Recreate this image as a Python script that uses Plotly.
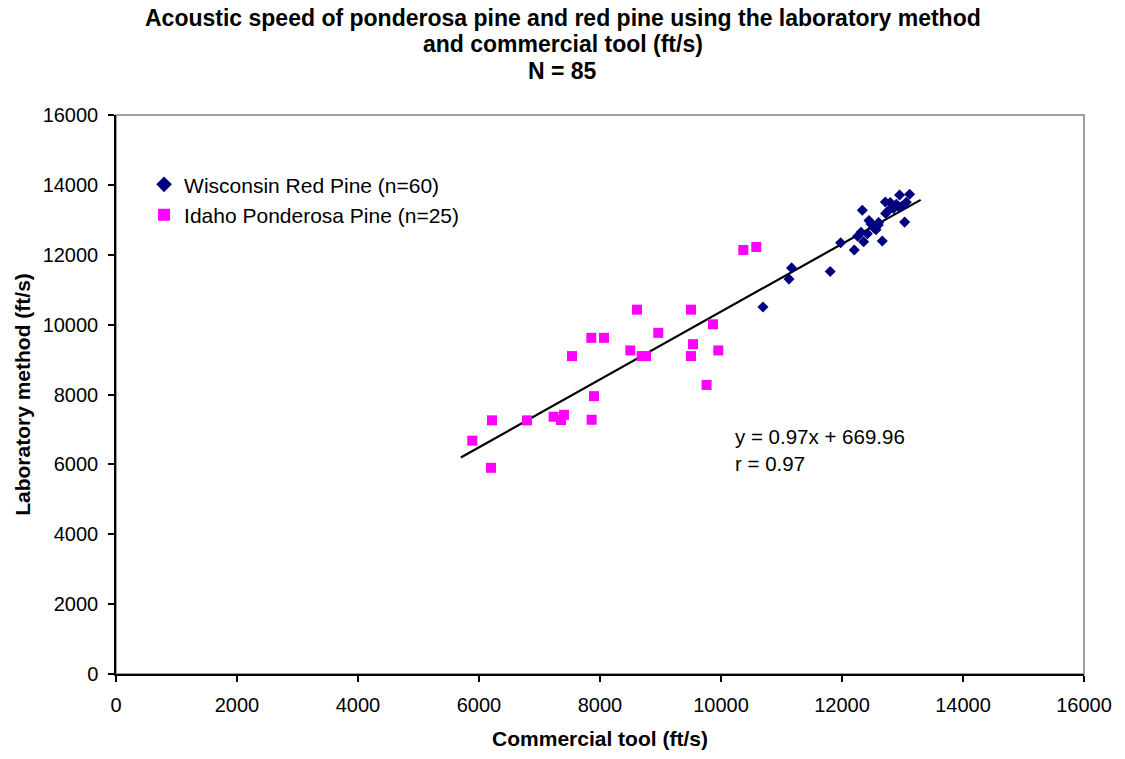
import plotly.graph_objects as go

# Wisconsin Red Pine (commercial tool, laboratory method) - ft/s
red_x = [10694, 11124, 11167, 11805, 11977, 12203, 12258, 12314, 12357, 12336,
         12446, 12522, 12605, 12562, 12666, 12721, 12716, 12798, 12853, 12898,
         12952, 12992, 13035, 13118, 13063, 12480, 12600, 12760, 12420, 12930]
red_y = [10505, 11303, 11624, 11519, 12345, 12137, 12527, 12641, 12373, 13275,
         12982, 12783, 12925, 12715, 12393, 13181, 13512, 13495, 13324, 13447,
         13710, 13398, 12934, 13731, 13503, 12880, 12850, 13250, 12600, 13380]

# Idaho Ponderosa Pine
pon_x = [5889, 6215, 6198, 6793, 7233, 7355, 7405, 7862, 7901, 7537,
         7856, 8066, 8611, 8501, 8688, 8760, 8963, 9504, 9504, 9537,
         9868, 9955, 9762, 10369, 10583]
pon_y = [6679, 7260, 5902, 7260, 7363, 7268, 7419, 7277, 7952, 9099,
         9622, 9622, 10428, 9261, 9099, 9099, 9765, 10428, 9099, 9441,
         10010, 9261, 8274, 12137, 12222]

# Trendline y = 0.97x + 669.96
slope = 0.97
intercept = 669.96
trend_x = [5700, 13300]
trend_y = [slope * v + intercept for v in trend_x]

ticks = [0, 2000, 4000, 6000, 8000, 10000, 12000, 14000, 16000]

title_lines = [
    "Acoustic speed of ponderosa pine and red pine using the laboratory method",
    "and commercial tool (ft/s)",
    "N = 85",
]

FONT = "Liberation Sans, Arial, sans-serif"

fig = go.Figure()
fig.add_trace(go.Scatter(
    x=trend_x, y=trend_y, mode="lines",
    line=dict(color="black", width=2.2), showlegend=False, hoverinfo="skip"))
fig.add_trace(go.Scatter(
    x=red_x, y=red_y, mode="markers", name="Wisconsin Red Pine (n=60)",
    marker=dict(symbol="diamond", size=8.5, color="#000080", line=dict(width=0))))
fig.add_trace(go.Scatter(
    x=pon_x, y=pon_y, mode="markers", name="Idaho Ponderosa Pine (n=25)",
    marker=dict(symbol="square", size=10, color="#FF00FF", line=dict(width=0))))

fig.add_annotation(
    x=10203, y=6414, xref="x", yref="y", xanchor="left", yanchor="middle",
    text="y = 0.97x + 669.96<br>r = 0.97", showarrow=False, align="left",
    font=dict(family=FONT, size=20.5, color="black"))

# title as three lines with tight spacing, centred on the page
for line, ypos in zip(title_lines, [1.1742, 1.1262, 1.0782]):
    fig.add_annotation(
        x=0.4613, y=ypos, xref="paper", yref="paper", xanchor="center", yanchor="middle",
        text="<b>" + line + "</b>", showarrow=False,
        font=dict(family=FONT, size=23, color="black"))

# gray plot-area frame
fig.add_shape(type="rect", xref="paper", yref="paper", x0=0, y0=0, x1=1, y1=1,
              line=dict(color="#808080", width=1.5), layer="below")

fig.update_layout(
    width=1125, height=759,
    margin=dict(l=116, r=41, t=115, b=82),
    paper_bgcolor="white", plot_bgcolor="white",
    font=dict(family=FONT, size=20, color="black"),
    legend=dict(x=0.029, y=0.912, xanchor="left", yanchor="top",
                bgcolor="rgba(0,0,0,0)", font=dict(family=FONT, size=21),
                tracegroupgap=0, itemsizing="constant"),
    showlegend=True,
)
fig.update_xaxes(
    range=[0, 16000], tickvals=ticks, ticktext=[str(t) for t in ticks],
    showgrid=False, zeroline=False, showline=True, linecolor="black", linewidth=1.5,
    ticks="outside", ticklen=6, tickcolor="black", tickwidth=1.5,
    ticklabelstandoff=6,
    tickfont=dict(family=FONT, size=20),
    title=dict(text="<b>Commercial tool (ft/s)</b>", font=dict(family=FONT, size=21), standoff=17))
fig.update_yaxes(
    range=[0, 16000], tickvals=ticks, ticktext=[str(t) for t in ticks],
    showgrid=False, zeroline=False, showline=True, linecolor="black", linewidth=1.5,
    ticks="outside", ticklen=6, tickcolor="black", tickwidth=1.5,
    ticklabelstandoff=6,
    tickfont=dict(family=FONT, size=20),
    title=dict(text="<b>Laboratory method (ft/s)</b>", font=dict(family=FONT, size=21), standoff=6))

fig.write_html("out.html")
